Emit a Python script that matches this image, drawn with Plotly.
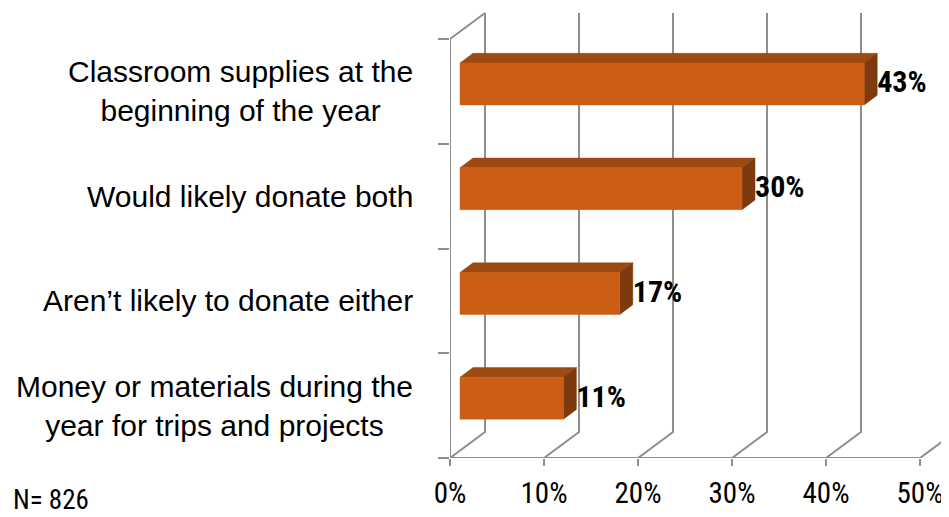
import plotly.graph_objects as go

# ---- data ----
categories = [
    "Money or materials during the<br>year for trips and projects",
    "Aren\u2019t likely to donate either",
    "Would likely donate both",
    "Classroom supplies at the<br>beginning of the year",
]
values = [11, 17, 30, 43]
value_labels = ["11%", "17%", "30%", "43%"]
x_ticks = [0, 10, 20, 30, 40, 50]
x_tick_labels = ["0%", "10%", "20%", "30%", "40%", "50%"]
note = "N= 826"

# ---- styling / geometry ----
NARROW = "Roboto Condensed, Liberation Sans, Arial, sans-serif"
LABEL_FONT = "Liberation Sans, Arial, sans-serif"
FRONT = "#CB5E14"
TOP = "#9C4912"
SIDE = "#7C3A0E"
GRID = "#8E8E8E"

OFF = 8                      # page body margin of the html page
W, H = 949 - OFF, 517 - OFF
ML, MR, MT, MB = 450 - OFF, 0, 0, 517 - 458
PW, PH = W - ML - MR, H - MT - MB
px_per_x = 9.4               # pixels per 1 % on the front plane
px_per_y = 104.75            # pixels per category band
xr = PW / px_per_x
yr_top = -0.5 + PH / px_per_y
DX = 35 / px_per_x           # depth offset (x, data units)
DY = 26 / px_per_y           # depth offset (y, data units)
F1, F2 = 0.286, 0.657        # bar front / back depth fractions
HH = 0.2                     # half bar height (band units)

fig = go.Figure()

n = len(categories)
ybot, ytop = -0.5, n - 0.5
line_style = dict(color=GRID, width=2)
# floor lines + back-wall gridlines
for t in x_ticks:
    fig.add_trace(go.Scatter(
        x=[t, t + DX, t + DX], y=[ybot, ybot + DY, ytop + DY],
        mode="lines", line=line_style, hoverinfo="skip", showlegend=False))
# left wall front edge + top slant
fig.add_trace(go.Scatter(
    x=[0, 0, DX], y=[ybot, ytop, ytop + DY], mode="lines",
    line=line_style, hoverinfo="skip", showlegend=False))
# front baseline
fig.add_trace(go.Scatter(
    x=[x_ticks[0], x_ticks[-1]], y=[ybot, ybot], mode="lines",
    line=line_style, hoverinfo="skip", showlegend=False))

# 3D bars
for i, v in enumerate(values):
    y0, y1 = i - HH, i + HH
    fx, fy = F1 * DX, F1 * DY
    bx, by = F2 * DX, F2 * DY
    fig.add_trace(go.Scatter(  # top face
        x=[fx, v + fx, v + bx, bx, fx],
        y=[y1 + fy, y1 + fy, y1 + by, y1 + by, y1 + fy],
        fill="toself", fillcolor=TOP, mode="lines", line=dict(color=TOP, width=0.5),
        hoverinfo="skip", showlegend=False))
    fig.add_trace(go.Scatter(  # side face
        x=[v + fx, v + bx, v + bx, v + fx, v + fx],
        y=[y0 + fy, y0 + by, y1 + by, y1 + fy, y0 + fy],
        fill="toself", fillcolor=SIDE, mode="lines", line=dict(color=SIDE, width=0.5),
        hoverinfo="skip", showlegend=False))
    fig.add_trace(go.Scatter(  # front face
        x=[fx, v + fx, v + fx, fx, fx],
        y=[y0 + fy, y0 + fy, y1 + fy, y1 + fy, y0 + fy],
        fill="toself", fillcolor=FRONT, mode="lines", line=dict(color=FRONT, width=0.5),
        hoverinfo="skip", showlegend=False))

# data labels
fig.add_trace(go.Scatter(
    x=[v + F2 * DX for v in values],
    y=[i + F1 * DY - 0.01 for i in range(n)],
    mode="text", text=[f"<b>{s}</b>" for s in value_labels],
    textposition="middle right",
    textfont=dict(family=NARROW, size=30, color="#000000"),
    hoverinfo="skip", showlegend=False, cliponaxis=False))

# category labels
label_right_paper = ((415 - OFF) - ML) / PW
for i, cat in enumerate(categories):
    fig.add_annotation(x=label_right_paper, y=i, xref="paper", yref="y", text=cat,
                       xanchor="right", yanchor="middle", showarrow=False,
                       align="center",
                       font=dict(family=LABEL_FONT, size=30, color="#000000"))

fig.add_annotation(x=((12 - OFF) - ML) / PW, y=-((500 - OFF) - (458 - OFF)) / PH,
                   xref="paper", yref="paper", text=note,
                   xanchor="left", yanchor="middle", showarrow=False, borderpad=0,
                   font=dict(family=NARROW, size=27, color="#000000"))

fig.update_xaxes(range=[0, xr], tickvals=x_ticks, ticktext=x_tick_labels,
                 ticks="outside", ticklen=7, tickwidth=2, tickcolor=GRID,
                 showgrid=False, zeroline=False, showline=False,
                 tickfont=dict(family=NARROW, size=29, color="#000000"),
                 ticklabelstandoff=2, fixedrange=True)
fig.update_yaxes(range=[-0.5, yr_top], tickvals=[k - 0.5 for k in range(n + 1)],
                 ticktext=[""] * (n + 1), ticks="outside", ticklen=11, tickwidth=2,
                 tickcolor=GRID, showgrid=False, zeroline=False, showline=False,
                 fixedrange=True)

fig.update_layout(width=W, height=H, margin=dict(l=ML, r=MR, t=MT, b=MB),
                  plot_bgcolor="white", paper_bgcolor="white",
                  font=dict(family=NARROW))

fig.write_html("out.html")
